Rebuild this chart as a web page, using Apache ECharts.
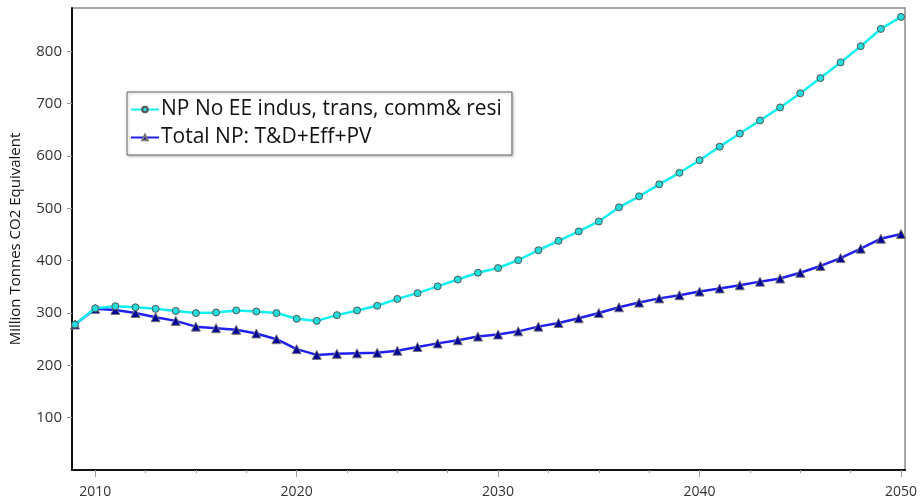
<!DOCTYPE html>
<html>
<head>
<meta charset="utf-8">
<script src="https://cdn.jsdelivr.net/npm/echarts@6/dist/echarts.min.js"></script>
<style>
  html, body { margin: 0; padding: 0; background: #fff; }
  #main { width: 920px; height: 502px; }
</style>
</head>
<body>
<div id="main"></div>
<script>
var years = [2009, 2010, 2011, 2012, 2013, 2014, 2015, 2016, 2017, 2018, 2019,
  2020, 2021, 2022, 2023, 2024, 2025, 2026, 2027, 2028, 2029,
  2030, 2031, 2032, 2033, 2034, 2035, 2036, 2037, 2038, 2039,
  2040, 2041, 2042, 2043, 2044, 2045, 2046, 2047, 2048, 2049, 2050];

// NP No EE indus, trans, comm& resi
var noEE = [278, 309, 313, 311, 308, 304, 300, 301, 305, 303, 300,
  289, 285, 296, 305, 314, 327, 338, 351, 364, 377,
  386, 401, 420, 438, 456, 475, 502, 523, 546, 568,
  592, 618, 643, 668, 693, 720, 749, 779, 810, 843, 866];

// Total NP: T&D+Eff+PV
var totalNP = [278, 308, 306, 300, 292, 285, 274, 271, 268, 261, 250,
  231, 220, 222, 223, 224, 228, 235, 242, 248, 255,
  259, 265, 274, 281, 290, 300, 311, 320, 328, 334,
  341, 347, 353, 360, 366, 377, 390, 405, 423, 442, 451];

var xLabels = [2010, 2020, 2030, 2040, 2050];
var xMinor = [2012.5, 2015, 2017.5, 2022.5, 2025, 2027.5, 2032.5, 2035, 2037.5,
  2042.5, 2045, 2047.5];
var yLabels = [100, 200, 300, 400, 500, 600, 700, 800];

function pairs(vals) {
  return years.map(function (y, i) { return [y, vals[i]]; });
}

var chart = echarts.init(document.getElementById('main'));

var option = {
  animation: false,
  backgroundColor: '#fff',
  textStyle: { fontFamily: 'Open Sans' },
  grid: {
    left: 68, right: 14, top: 8, bottom: 32,
    show: true,
    borderColor: '#8c8c8c',
    borderWidth: 1.5
  },
  legend: {
    orient: 'vertical',
    left: 127,
    top: 92,
    padding: [7, 10, 7, 3],
    itemGap: 7,
    itemWidth: 28,
    itemHeight: 7,
    backgroundColor: '#fff',
    borderColor: '#666',
    borderWidth: 1,
    shadowColor: 'rgba(0,0,0,0.25)',
    shadowBlur: 3,
    shadowOffsetX: 1,
    shadowOffsetY: 1,
    textStyle: { fontSize: 21, color: '#111', fontFamily: 'Open Sans', padding: [0, 0, 0, -3] },
    data: ['NP No EE indus, trans, comm& resi', 'Total NP: T&D+Eff+PV']
  },
  xAxis: [{
    type: 'value',
    min: 2008.85,
    max: 2050.2,
    splitLine: { show: false },
    axisLine: { onZero: false, lineStyle: { color: '#111', width: 2 } },
    axisTick: { customValues: xLabels, length: 7, lineStyle: { color: '#999' } },
    axisLabel: {
      customValues: xLabels,
      margin: 15,
      fontSize: 14,
      color: '#333',
      formatter: function (v) { return String(v); }
    }
  }, {
    type: 'value',
    position: 'bottom',
    min: 2008.85,
    max: 2050.2,
    splitLine: { show: false },
    axisLine: { show: false, onZero: false },
    axisTick: { customValues: xMinor, length: 3, lineStyle: { color: '#999' } },
    axisLabel: { show: false }
  }],
  yAxis: {
    type: 'value',
    min: 0,
    max: 883,
    name: 'Million Tonnes CO2 Equivalent',
    nameLocation: 'middle',
    nameGap: 49,
    nameTextStyle: { fontSize: 15, color: '#111', fontFamily: 'Open Sans' },
    splitLine: { show: false },
    axisLine: { lineStyle: { color: '#111', width: 2 } },
    axisTick: { customValues: yLabels, length: 5, lineStyle: { color: '#999' } },
    axisLabel: {
      customValues: yLabels,
      margin: 10,
      fontSize: 15,
      color: '#333'
    }
  },
  series: [{
    name: 'NP No EE indus, trans, comm& resi',
    type: 'line',
    data: pairs(noEE),
    symbol: 'circle',
    symbolSize: 7,
    lineStyle: { color: '#11f0f0', width: 2.5 },
    itemStyle: { color: '#22dddd', borderColor: '#555', borderWidth: 1 },
    z: 3
  }, {
    name: 'Total NP: T&D+Eff+PV',
    type: 'line',
    data: pairs(totalNP),
    symbol: 'triangle',
    symbolSize: 9,
    lineStyle: { color: '#2020f0', width: 2.5 },
    itemStyle: { color: '#000099', borderColor: '#777', borderWidth: 1 },
    z: 2
  }]
};

chart.setOption(option);
</script>
</body>
</html>
